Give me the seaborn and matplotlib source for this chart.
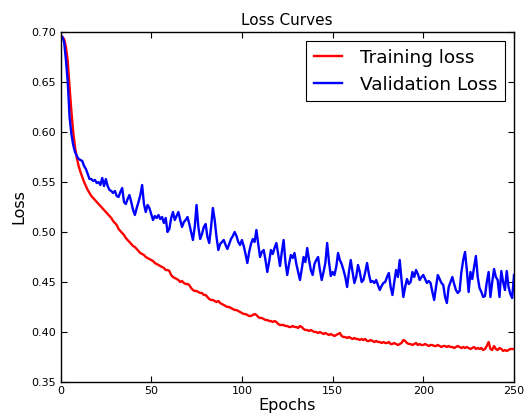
import numpy as np
import pandas as pd
import matplotlib
matplotlib.use("Agg")
import matplotlib.pyplot as plt
import seaborn as sns

# loss values, epochs 1..250
epochs = list(range(1, 251))

train_loss = [
    0.695, 0.693, 0.685, 0.671, 0.645, 0.621, 0.600, 0.585, 0.574, 0.566,
    0.560, 0.555, 0.550, 0.546, 0.542, 0.539, 0.536, 0.534, 0.532, 0.530,
    0.528, 0.526, 0.524, 0.522, 0.520, 0.518, 0.516, 0.514, 0.511, 0.509,
    0.507, 0.503, 0.501, 0.499, 0.497, 0.494, 0.492, 0.490, 0.488, 0.486,
    0.485, 0.483, 0.481, 0.479, 0.478, 0.477, 0.475, 0.474, 0.473, 0.472,
    0.471, 0.469, 0.468, 0.467, 0.466, 0.465, 0.464, 0.462, 0.462, 0.461,
    0.457, 0.455, 0.454, 0.453, 0.452, 0.450, 0.451, 0.449, 0.448, 0.448,
    0.447, 0.444, 0.442, 0.441, 0.441, 0.440, 0.439, 0.439, 0.437, 0.437,
    0.435, 0.433, 0.432, 0.432, 0.431, 0.430, 0.431, 0.429, 0.428, 0.427,
    0.426, 0.425, 0.425, 0.424, 0.423, 0.422, 0.422, 0.421, 0.420, 0.419,
    0.418, 0.418, 0.417, 0.416, 0.416, 0.417, 0.418, 0.417, 0.415, 0.414,
    0.414, 0.413, 0.412, 0.412, 0.411, 0.411, 0.410, 0.411, 0.410, 0.408,
    0.407, 0.407, 0.407, 0.406, 0.406, 0.405, 0.405, 0.406, 0.405, 0.405,
    0.404, 0.406, 0.405, 0.403, 0.402, 0.402, 0.401, 0.402, 0.401, 0.400,
    0.400, 0.399, 0.400, 0.399, 0.398, 0.399, 0.398, 0.397, 0.398, 0.397,
    0.396, 0.397, 0.398, 0.399, 0.396, 0.395, 0.395, 0.394, 0.395, 0.394,
    0.393, 0.394, 0.393, 0.393, 0.392, 0.393, 0.392, 0.393, 0.391, 0.391,
    0.392, 0.391, 0.390, 0.391, 0.390, 0.390, 0.389, 0.390, 0.389, 0.389,
    0.390, 0.388, 0.388, 0.389, 0.388, 0.387, 0.388, 0.389, 0.392, 0.391,
    0.389, 0.388, 0.388, 0.387, 0.388, 0.389, 0.387, 0.388, 0.387, 0.387,
    0.388, 0.387, 0.386, 0.387, 0.387, 0.386, 0.386, 0.387, 0.386, 0.385,
    0.386, 0.386, 0.385, 0.386, 0.385, 0.385, 0.384, 0.385, 0.386, 0.385,
    0.384, 0.385, 0.384, 0.385, 0.384, 0.383, 0.384, 0.385, 0.383, 0.384,
    0.383, 0.384, 0.382, 0.383, 0.386, 0.390, 0.383, 0.382, 0.386, 0.383,
    0.382, 0.384, 0.383, 0.381, 0.382, 0.381, 0.382, 0.383, 0.383, 0.383,
]

val_loss = [
    0.695, 0.690, 0.672, 0.650, 0.615, 0.598, 0.587, 0.580, 0.576, 0.573,
    0.572, 0.571, 0.566, 0.563, 0.558, 0.553, 0.553, 0.551, 0.552, 0.549,
    0.550, 0.547, 0.554, 0.546, 0.553, 0.546, 0.542, 0.541, 0.539, 0.541,
    0.536, 0.535, 0.540, 0.544, 0.530, 0.528, 0.533, 0.537, 0.530, 0.522,
    0.517, 0.524, 0.530, 0.537, 0.547, 0.528, 0.520, 0.527, 0.524, 0.518,
    0.512, 0.516, 0.514, 0.517, 0.513, 0.515, 0.509, 0.514, 0.500, 0.503,
    0.514, 0.520, 0.512, 0.516, 0.520, 0.512, 0.505, 0.510, 0.512, 0.515,
    0.508, 0.500, 0.492, 0.505, 0.527, 0.505, 0.493, 0.498, 0.505, 0.508,
    0.495, 0.489, 0.505, 0.524, 0.512, 0.495, 0.482, 0.488, 0.490, 0.492,
    0.487, 0.483, 0.488, 0.493, 0.496, 0.500, 0.496, 0.490, 0.487, 0.492,
    0.486, 0.478, 0.469, 0.480, 0.488, 0.493, 0.490, 0.502, 0.488, 0.475,
    0.480, 0.482, 0.472, 0.460, 0.470, 0.482, 0.478, 0.484, 0.489, 0.478,
    0.466, 0.480, 0.492, 0.470, 0.457, 0.468, 0.477, 0.474, 0.479, 0.468,
    0.460, 0.452, 0.463, 0.475, 0.470, 0.484, 0.472, 0.462, 0.457, 0.468,
    0.472, 0.475, 0.462, 0.452, 0.460, 0.469, 0.489, 0.470, 0.456, 0.460,
    0.457, 0.465, 0.479, 0.472, 0.468, 0.462, 0.455, 0.445, 0.460, 0.472,
    0.460, 0.449, 0.455, 0.467, 0.460, 0.450, 0.452, 0.460, 0.469, 0.458,
    0.450, 0.451, 0.449, 0.452, 0.447, 0.442, 0.446, 0.449, 0.450, 0.455,
    0.459, 0.445, 0.437, 0.450, 0.462, 0.455, 0.472, 0.452, 0.435, 0.445,
    0.453, 0.448, 0.450, 0.460, 0.455, 0.462, 0.458, 0.452, 0.455, 0.457,
    0.453, 0.449, 0.451, 0.449, 0.440, 0.432, 0.445, 0.457, 0.453, 0.449,
    0.447, 0.435, 0.429, 0.445, 0.450, 0.455, 0.448, 0.442, 0.439, 0.441,
    0.460, 0.472, 0.480, 0.462, 0.440, 0.460, 0.453, 0.465, 0.476, 0.455,
    0.444, 0.440, 0.435, 0.436, 0.450, 0.460, 0.435, 0.450, 0.463, 0.455,
    0.452, 0.435, 0.461, 0.450, 0.442, 0.461, 0.445, 0.438, 0.434, 0.457,
]

df = pd.DataFrame({
    "epoch": epochs * 2,
    "loss": train_loss + val_loss,
    "kind": ["Training loss"] * len(epochs) + ["Validation Loss"] * len(epochs),
})

fig = plt.figure(figsize=(5.24, 4.19), dpi=100)
fig.patch.set_facecolor("white")
ax = fig.add_axes([60.5 / 524, 1 - 382 / 419, (514 - 60.5) / 524, 350 / 419])

sns.lineplot(data=df, x="epoch", y="loss", hue="kind",
             palette={"Training loss": "red", "Validation Loss": "blue"},
             linewidth=1.7, ax=ax)

ax.set_xlim(0, 250)
ax.set_ylim(0.35, 0.70)
ax.set_xticks([0, 50, 100, 150, 200, 250])
ax.set_yticks(np.arange(0.35, 0.701, 0.05))
ax.yaxis.set_major_formatter(matplotlib.ticker.FormatStrFormatter("%.2f"))
ax.tick_params(direction="in", top=True, right=True, length=4, width=0.8,
               labelsize=8, pad=3)
for s in ax.spines.values():
    s.set_color("black")
    s.set_linewidth(1.0)

ax.set_title("Loss Curves", fontsize=11, pad=5)
ax.set_xlabel("Epochs", fontsize=11.5, labelpad=1)
ax.set_ylabel("Loss", fontsize=11.5, labelpad=4)

leg = ax.legend(loc="upper right", fontsize=13.3, fancybox=False,
                edgecolor="black", framealpha=1, handlelength=1.5,
                handletextpad=1.0, borderaxespad=0.5)
leg.get_frame().set_linewidth(0.8)

fig.savefig("out.png", dpi=100, facecolor="white")
